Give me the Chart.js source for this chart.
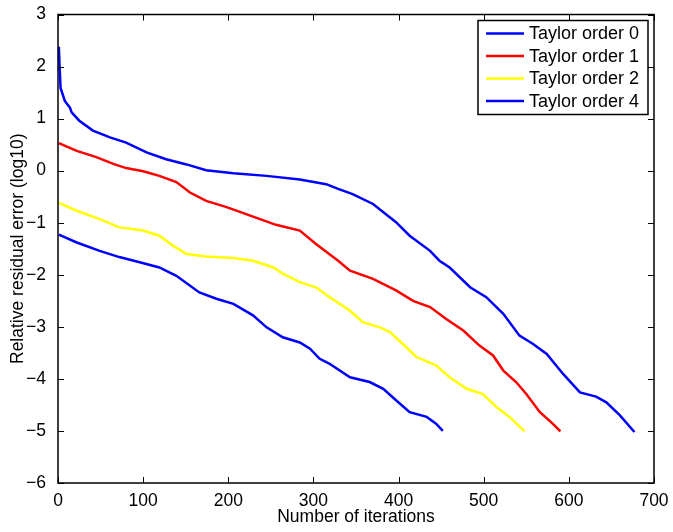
<!DOCTYPE html>
<html>
<head>
<meta charset="utf-8">
<script src="https://cdn.jsdelivr.net/npm/chart.js@4"></script>
<style>
  html, body { margin: 0; padding: 0; background: #fff; }
  #wrap { width: 673px; height: 532px; }
</style>
</head>
<body>
<div id="wrap"><canvas id="chart" width="673" height="532"></canvas></div>
<script>
const seriesLabels = ["Taylor order 0", "Taylor order 1", "Taylor order 2", "Taylor order 4"];
const seriesColors = ["#0000ff", "#ff0000", "#ffff00", "#0000ff"];

const order0Iter = [1, 2, 3, 8, 14, 16, 25, 41, 61, 80, 104, 127, 151, 174, 206, 245, 284, 315, 329, 346,
  370, 397, 413, 437, 448, 460, 484, 503, 523, 542, 558, 574, 593, 613, 632, 644, 660, 677];
const order0Err = [2.38, 1.95, 1.59, 1.34, 1.21, 1.12, 0.96, 0.77, 0.64, 0.54, 0.35, 0.22, 0.12, 0.01, -0.05, -0.10, -0.17, -0.26, -0.35, -0.45,
  -0.64, -0.99, -1.25, -1.54, -1.73, -1.86, -2.24, -2.43, -2.75, -3.17, -3.33, -3.52, -3.90, -4.26, -4.34, -4.45, -4.70, -5.02];

const order1Iter = [1, 22, 45, 65, 80, 100, 119, 139, 155, 174, 198, 225, 256, 284, 303, 329, 343, 370, 397, 417,
  437, 456, 476, 495, 511, 523, 538, 550, 566, 581, 590];
const order1Err = [0.53, 0.38, 0.26, 0.13, 0.05, -0.01, -0.10, -0.22, -0.42, -0.58, -0.70, -0.86, -1.04, -1.15, -1.41, -1.73, -1.92, -2.08, -2.30, -2.50,
  -2.62, -2.85, -3.07, -3.36, -3.55, -3.84, -4.06, -4.29, -4.64, -4.86, -5.01];

const order2Iter = [1, 22, 49, 72, 100, 119, 135, 151, 174, 206, 229, 253, 264, 284, 303, 319, 343, 358, 378, 390,
  405, 421, 444, 460, 480, 499, 515, 531, 548];
const order2Err = [-0.62, -0.77, -0.93, -1.09, -1.15, -1.25, -1.44, -1.60, -1.65, -1.68, -1.73, -1.86, -1.98, -2.14, -2.24, -2.43, -2.69, -2.91, -3.01, -3.10,
  -3.33, -3.58, -3.74, -3.97, -4.19, -4.29, -4.54, -4.74, -5.01];

const order4Iter = [1, 22, 49, 72, 96, 119, 139, 166, 186, 206, 229, 245, 264, 284, 296, 307, 319, 343, 366, 382,
  397, 413, 433, 444, 452];
const order4Err = [-1.23, -1.38, -1.54, -1.66, -1.76, -1.86, -2.02, -2.34, -2.46, -2.56, -2.78, -3.01, -3.20, -3.30, -3.42, -3.61, -3.71, -3.97, -4.06, -4.19,
  -4.41, -4.64, -4.73, -4.86, -5.00];

const xTicks = [0, 100, 200, 300, 400, 500, 600, 700];
const yTicks = [-6, -5, -4, -3, -2, -1, 0, 1, 2, 3];

const FONT = "'Liberation Sans', Arial, Helvetica, sans-serif";

const toPoints = (xs, ys) => xs.map((x, i) => ({ x: x, y: ys[i] }));
const allSeries = [
  toPoints(order0Iter, order0Err),
  toPoints(order1Iter, order1Err),
  toPoints(order2Iter, order2Err),
  toPoints(order4Iter, order4Err),
];

// matlab style box with inward ticks on all four sides
const boxTicks = {
  id: "boxTicks",
  afterDatasetsDraw(chart) {
    const { ctx, chartArea: a, scales: { x, y } } = chart;
    const len = 6;
    ctx.save();
    ctx.strokeStyle = "#000";
    ctx.lineWidth = 1;
    ctx.beginPath();
    xTicks.forEach((v) => {
      const px = Math.round(x.getPixelForValue(v)) + 0.5;
      ctx.moveTo(px, a.bottom); ctx.lineTo(px, a.bottom - len);
      ctx.moveTo(px, a.top); ctx.lineTo(px, a.top + len);
    });
    yTicks.forEach((v) => {
      const py = Math.round(y.getPixelForValue(v)) + 0.5;
      ctx.moveTo(a.left, py); ctx.lineTo(a.left + len, py);
      ctx.moveTo(a.right, py); ctx.lineTo(a.right - len, py);
    });
    ctx.stroke();
    ctx.lineWidth = 1.5;
    ctx.strokeRect(a.left, a.top, a.right - a.left, a.bottom - a.top);
    ctx.restore();
  },
};

// legend drawn inside the plot, top right
const boxLegend = {
  id: "boxLegend",
  afterDraw(chart) {
    const { ctx, chartArea: a } = chart;
    const w = 170, rowH = 22.5, h = 94;
    const left = a.right - 6 - w, top = a.top + 6;
    ctx.save();
    ctx.fillStyle = "#fff";
    ctx.fillRect(left, top, w, h);
    ctx.strokeStyle = "#000";
    ctx.lineWidth = 1.5;
    ctx.strokeRect(left, top, w, h);
    ctx.font = "18px " + FONT;
    ctx.textBaseline = "middle";
    chart.data.datasets.forEach((ds, i) => {
      const cy = top + 13 + i * rowH;
      ctx.strokeStyle = ds.borderColor;
      ctx.lineWidth = 2.5;
      ctx.beginPath();
      ctx.moveTo(left + 8, cy);
      ctx.lineTo(left + 46, cy);
      ctx.stroke();
      ctx.fillStyle = "#000";
      ctx.fillText(ds.label, left + 51, cy + 1);
    });
    ctx.restore();
  },
};

const minus = (v) => String(v).replace("-", "\u2212");

new Chart(document.getElementById("chart"), {
  type: "line",
  data: {
    datasets: allSeries.map((pts, i) => ({
      label: seriesLabels[i],
      data: pts,
      borderColor: seriesColors[i],
      backgroundColor: seriesColors[i],
      borderWidth: 2.5,
      pointRadius: 0,
      tension: 0,
      fill: false,
    })),
  },
  options: {
    responsive: false,
    animation: false,
    layout: { padding: { left: 0, top: 14, right: 19, bottom: 0 } },
    plugins: { legend: { display: false }, tooltip: { enabled: false } },
    scales: {
      x: {
        type: "linear",
        min: 0,
        max: 700,
        afterBuildTicks: (s) => { s.ticks = xTicks.map((v) => ({ value: v })); },
        afterFit: (s) => { s.height = 49; },
        grid: { display: false },
        border: { display: false },
        ticks: { color: "#000", font: { family: FONT, size: 17.5 }, padding: 0, maxRotation: 0, callback: minus },
        title: { display: true, text: "Number of iterations", color: "#000", font: { family: FONT, size: 17.5 }, padding: { top: 0, bottom: 4 } },
      },
      y: {
        min: -6,
        max: 3,
        afterBuildTicks: (s) => { s.ticks = yTicks.map((v) => ({ value: v })); },
        afterFit: (s) => { s.width = 58; },
        grid: { display: false },
        border: { display: false },
        ticks: { color: "#000", font: { family: FONT, size: 17.5 }, padding: 4, callback: minus },
        title: { display: true, text: "Relative residual error (log10)", color: "#000", font: { family: FONT, size: 17.5 }, padding: { top: 8, bottom: 0 } },
      },
    },
  },
  plugins: [boxTicks, boxLegend],
});
</script>
</body>
</html>
